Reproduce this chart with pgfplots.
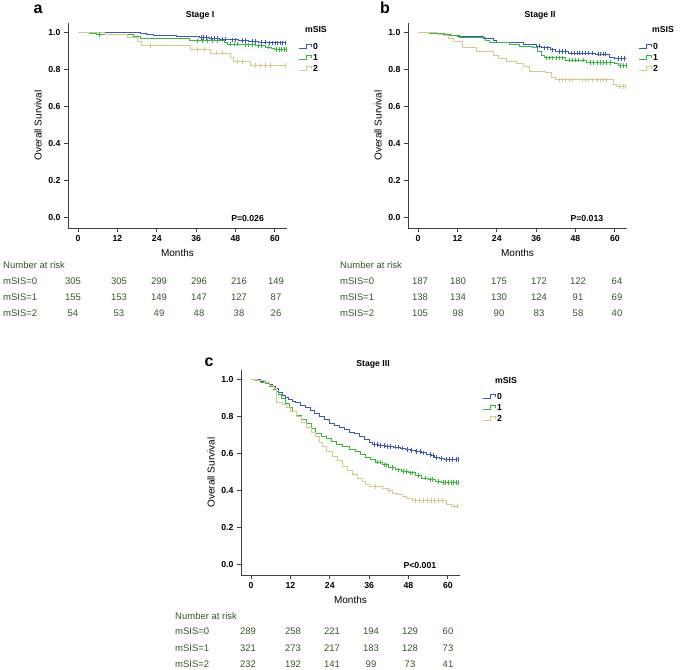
\documentclass[border=0pt]{standalone}
\usepackage{fontspec}
\setmainfont{Liberation Sans}
\usepackage{pgfplots}
\pgfplotsset{compat=1.18}
\definecolor{c0}{RGB}{62,88,186}
\definecolor{c1}{RGB}{52,186,60}
\definecolor{c2}{RGB}{212,203,135}
\definecolor{tg}{RGB}{52,88,40}
\newcommand\lf{\fontsize{8.7}{10}\selectfont\bfseries}
\newcommand\tf{\fontsize{9.5}{11}\selectfont}
\pgfplotsset{
  km/.style={
    scale only axis, width=219pt, height=205pt,
    xmin=-3.05, xmax=63.7, ymin=-0.057, ymax=1.05,
    axis x line*=bottom, axis y line*=left,
    axis line style={-, line width=0.8pt, black!75},
    xtick={0,12,24,36,48,60}, ytick={0,0.2,0.4,0.6,0.8,1.0},
    yticklabel style={/pgf/number format/.cd, fixed, fixed zerofill, precision=1},
    tick align=outside, major tick length=4pt,
    tick style={line width=0.8pt, black!75},
    ticklabel style={font=\lf},
    /pgf/number format/assume math mode=true,
    label style={font=\lf},
    xlabel=Months, ylabel=Overall Survival,
    every axis x label/.style={at={(axis description cs:0.5,-0.122)}, anchor=center},
    every axis y label/.style={at={(axis description cs:-0.137,0.5)}, rotate=90, anchor=center},
    clip=false,
    legend style={draw=none, fill=none, inner sep=0pt, row sep=2.5pt, font=\lf,
      nodes={inner sep=1pt, text height=6pt, text depth=0.5pt}, anchor=north west},
    legend cell align=left,
    legend image code/.code={\draw[#1] (0pt,-2pt) -- (7.5pt,-2pt) -- (7.5pt,2pt) -- (13pt,2pt) -- (13pt,-0.5pt);},
  },
  k0/.style={const plot, color=c0, line width=1pt, mark=none},
  k1/.style={const plot, color=c1, line width=1pt, mark=none},
  k2/.style={const plot, color=c2, line width=1pt, mark=none},
  cz/.style={only marks, mark=|, mark size=2.3pt, mark options={line width=0.6pt}, forget plot},
}
\begin{document}
\begin{tikzpicture}
\path[use as bounding box] (0pt,0pt) rectangle (685pt,669pt);
% ---------------- panel a
\begin{axis}[km, at={(68pt,441pt)}, anchor=south west, legend style={at={(axis description cs:1.05,0.905)}}]
\addplot[k0] coordinates {(0,1)(16.5,0.996)(19,0.991)(21,0.986)(23,0.981)(30,0.977)(37,0.973)(40,0.968)(43,0.963)(46,0.959)(49,0.955)(52,0.951)(55,0.947)(57.5,0.943)(63.5,0.943)};
\addlegendentry{0}
\addplot[k1] coordinates {(0,1)(3.5,0.993)(5.5,0.987)(17,0.978)(19,0.967)(34,0.957)(35,0.953)(44.5,0.944)(45.5,0.936)(50,0.932)(54,0.926)(57,0.92)(59,0.913)(60,0.908)(63.5,0.908)};
\addlegendentry{1}
\addplot[k2] coordinates {(0,1)(8,0.988)(15,0.97)(18,0.951)(19.2,0.928)(34.3,0.907)(40.4,0.887)(46.5,0.862)(47.5,0.843)(52.6,0.82)(63.5,0.82)};
\addlegendentry{2}
\addplot[k0,cz] coordinates {(37.5,0.973)(38.3,0.973)(39.2,0.973)(40.6,0.968)(41.5,0.968)(42.4,0.968)(44,0.963)(45,0.963)(47,0.959)(48,0.959)(50,0.955)(51,0.955)(53,0.951)(54,0.951)(56,0.947)(57,0.947)(58.3,0.943)(59.2,0.943)(60,0.943)(60.8,0.943)(61.6,0.943)(62.4,0.943)(63.2,0.943)};
\addplot[k1,cz] coordinates {(6.5,0.987)(36.5,0.953)(38,0.953)(39.5,0.953)(41,0.953)(42.5,0.953)(46.5,0.936)(47.5,0.936)(48.5,0.936)(51,0.932)(52,0.932)(53,0.932)(55,0.926)(56,0.926)(58,0.92)(60.5,0.908)(61.3,0.908)(62.1,0.908)(62.9,0.908)(63.5,0.908)};
\addplot[k2,cz] coordinates {(22,0.928)(36.5,0.907)(38.5,0.907)(42,0.887)(44,0.887)(48.5,0.843)(50,0.843)(54,0.82)(55.5,0.82)(57,0.82)(58.5,0.82)(63.3,0.82)};
\node[font=\lf] at (axis description cs:0.603,1.037) {Stage I};
\node[font=\lf] at (axis description cs:0.82,0.044) {P=0.026};
\node[font=\lf] at (axis description cs:1.132,0.966) {mSIS};
\end{axis}
% ---------------- panel b
\begin{axis}[km, at={(408pt,441pt)}, anchor=south west, legend style={at={(axis description cs:1.05,0.905)}}]
\addplot[k0] coordinates {(0,1)(4.6,0.995)(8,0.99)(10,0.983)(12,0.975)(20,0.966)(23,0.955)(24,0.945)(32,0.935)(36,0.925)(37.5,0.915)(40.5,0.905)(42,0.895)(46,0.887)(54,0.882)(58.5,0.866)(60,0.857)(63.5,0.857)};
\addlegendentry{0}
\addplot[k1] coordinates {(0,1)(3.6,0.994)(7.7,0.99)(9.7,0.982)(12.5,0.972)(20.7,0.958)(21.7,0.944)(28,0.935)(31,0.925)(35,0.915)(36.5,0.895)(37.5,0.875)(38.5,0.862)(45,0.85)(51.5,0.838)(60,0.829)(61,0.82)(63.5,0.82)};
\addlegendentry{1}
\addplot[k2] coordinates {(0,1)(6,0.99)(7.7,0.982)(9.2,0.966)(10.7,0.948)(13.7,0.92)(17.8,0.894)(22.9,0.876)(24.4,0.858)(27,0.843)(30,0.83)(32,0.813)(34,0.79)(39,0.78)(40.6,0.758)(42,0.743)(59.5,0.72)(60.5,0.708)(63.5,0.708)};
\addlegendentry{2}
\addplot[k0,cz] coordinates {(37,0.925)(38.5,0.915)(39.5,0.915)(41,0.905)(43,0.895)(44,0.895)(45,0.895)(46.8,0.887)(47.6,0.887)(48.4,0.887)(49.2,0.887)(50,0.887)(51,0.887)(52,0.887)(53,0.887)(54.8,0.882)(55.6,0.882)(56.4,0.882)(57.2,0.882)(61,0.857)(62,0.857)(63,0.857)};
\addplot[k1,cz] coordinates {(39,0.862)(40,0.862)(41,0.862)(42,0.862)(43,0.862)(44,0.862)(46,0.85)(47,0.85)(48,0.85)(49,0.85)(50.5,0.85)(52.5,0.838)(53.5,0.838)(54.5,0.838)(55.5,0.838)(56.5,0.838)(57.5,0.838)(58.5,0.838)(61.8,0.82)(62.6,0.82)(63.4,0.82)};
\addplot[k2,cz] coordinates {(43,0.743)(44,0.743)(45,0.743)(46,0.743)(47,0.743)(50,0.743)(51,0.743)(52,0.743)(53,0.743)(54.5,0.743)(55.5,0.743)(56.5,0.743)(57.5,0.743)(61.5,0.708)(62.5,0.708)(63.3,0.708)};
\node[font=\lf] at (axis description cs:0.603,1.037) {Stage II};
\node[font=\lf] at (axis description cs:0.817,0.044) {P=0.013};
\node[font=\lf] at (axis description cs:1.164,0.966) {mSIS};
\end{axis}
% ---------------- panel c
\begin{axis}[km, at={(241pt,94pt)}, anchor=south west, legend style={at={(axis description cs:1.10,0.893)}}]
\addplot[k0] coordinates {(0,1)(1.5,0.997)(3,0.99)(4.5,0.982)(5.5,0.972)(6.5,0.962)(7.5,0.948)(8.5,0.93)(9.5,0.914)(10.5,0.9)(11.5,0.89)(12.5,0.882)(13.5,0.872)(15,0.86)(16.5,0.848)(18,0.832)(19.5,0.815)(21,0.8)(22.5,0.78)(24,0.762)(25.5,0.75)(27,0.738)(28.5,0.726)(30,0.715)(31.5,0.705)(33,0.69)(34.5,0.677)(36,0.66)(37,0.648)(39,0.642)(41,0.638)(43.5,0.634)(45.5,0.628)(47,0.62)(48.5,0.614)(50,0.609)(52,0.602)(53.5,0.595)(55,0.588)(56,0.578)(57.5,0.572)(59,0.566)(63.5,0.566)};
\addlegendentry{0}
\addplot[k1] coordinates {(0,1)(1.5,0.995)(3,0.985)(4.5,0.975)(5.7,0.96)(7,0.945)(7.7,0.932)(8.5,0.915)(9.2,0.896)(10.5,0.87)(11.7,0.845)(12.7,0.825)(13.8,0.806)(15.3,0.785)(16.8,0.762)(18.3,0.735)(19.8,0.708)(21.5,0.69)(23,0.678)(24.5,0.665)(26,0.65)(27.9,0.636)(30,0.622)(31.9,0.609)(33.5,0.595)(35,0.58)(36.5,0.565)(38,0.553)(40,0.538)(42,0.525)(44.1,0.511)(46,0.503)(48.1,0.494)(50,0.48)(52.1,0.466)(54,0.458)(56.1,0.448)(58,0.444)(63.5,0.444)};
\addlegendentry{1}
\addplot[k2] coordinates {(0,1)(2,0.992)(4,0.982)(5.7,0.968)(7,0.952)(7.8,0.872)(9.5,0.862)(10.7,0.85)(12,0.825)(13.8,0.797)(15.3,0.765)(16.8,0.74)(18.3,0.715)(19.8,0.69)(21,0.66)(21.8,0.636)(23,0.612)(24.8,0.585)(26.5,0.56)(27.9,0.53)(29.5,0.505)(30.9,0.484)(32.5,0.463)(33.9,0.448)(35,0.432)(36,0.421)(40,0.412)(41.5,0.4)(43.1,0.385)(44.5,0.378)(46.1,0.367)(47.5,0.358)(49.1,0.345)(59.5,0.325)(61,0.315)(63.5,0.315)};
\addlegendentry{2}
\addplot[k0,cz] coordinates {(37.5,0.648)(38.5,0.648)(39.5,0.642)(40.5,0.642)(41.5,0.638)(42.5,0.638)(44,0.634)(45,0.634)(46,0.628)(47.5,0.62)(49,0.614)(50.5,0.609)(51.5,0.609)(52.5,0.602)(54.5,0.595)(55.5,0.588)(56.5,0.578)(58,0.572)(59.5,0.566)(60.5,0.566)(61.5,0.566)(62.5,0.566)(63.3,0.566)};
\addplot[k1,cz] coordinates {(38.5,0.553)(39.3,0.553)(40.5,0.538)(41.3,0.538)(43,0.525)(45,0.511)(46.5,0.503)(47.3,0.503)(48.5,0.494)(49.3,0.494)(51,0.48)(53,0.466)(54.5,0.458)(55.3,0.458)(57,0.448)(58.5,0.444)(59.3,0.444)(60.1,0.444)(60.9,0.444)(61.7,0.444)(62.5,0.444)(63.3,0.444)};
\addplot[k2,cz] coordinates {(38,0.421)(42,0.4)(50,0.345)(51.2,0.345)(52.4,0.345)(53.6,0.345)(54.8,0.345)(56,0.345)(57.2,0.345)(58.4,0.345)(62,0.315)(63,0.315)};
\node[font=\lf] at (axis description cs:0.603,1.025) {Stage III};
\node[font=\lf] at (axis description cs:0.817,0.044) {P<0.001};
\node[font=\lf] at (axis description cs:1.21,0.951) {mSIS};
\end{axis}
% ---------------- panel labels
\node[anchor=base, font=\fontsize{16}{18}\selectfont\bfseries] at (38pt,655.7pt) {a};
\node[anchor=base, font=\fontsize{16}{18}\selectfont\bfseries] at (385pt,655.7pt) {b};
\node[anchor=base, font=\fontsize{16}{18}\selectfont\bfseries] at (209pt,302pt) {c};
% ---------------- number at risk tables
\begin{scope}[font=\tf, text=tg]
\node[anchor=base west, inner sep=0pt] at (3pt,400pt) {Number at risk};
\node[anchor=base west, inner sep=0pt] at (3pt,384pt) {mSIS=0};
\node[anchor=base west, inner sep=0pt] at (3pt,368.5pt) {mSIS=1};
\node[anchor=base west, inner sep=0pt] at (3pt,352.5pt) {mSIS=2};
\foreach \x/\u/\v/\w in {73/305/155/54, 119/305/153/53, 159/299/149/49, 199/296/147/48, 239/216/127/38, 276/149/87/26}{
  \node[anchor=base, inner sep=0pt] at (\x pt,384pt) {\u};
  \node[anchor=base, inner sep=0pt] at (\x pt,368.5pt) {\v};
  \node[anchor=base, inner sep=0pt] at (\x pt,352.5pt) {\w};
}
\node[anchor=base west, inner sep=0pt] at (340pt,400pt) {Number at risk};
\node[anchor=base west, inner sep=0pt] at (340pt,384pt) {mSIS=0};
\node[anchor=base west, inner sep=0pt] at (340pt,368.5pt) {mSIS=1};
\node[anchor=base west, inner sep=0pt] at (340pt,352.5pt) {mSIS=2};
\foreach \x/\u/\v/\w in {420/187/138/105, 458/180/134/98, 499/175/130/90, 539/172/124/83, 578/122/91/58, 617/64/69/40}{
  \node[anchor=base, inner sep=0pt] at (\x pt,384pt) {\u};
  \node[anchor=base, inner sep=0pt] at (\x pt,368.5pt) {\v};
  \node[anchor=base, inner sep=0pt] at (\x pt,352.5pt) {\w};
}
\node[anchor=base west, inner sep=0pt] at (175pt,49.8pt) {Number at risk};
\node[anchor=base west, inner sep=0pt] at (175pt,34.3pt) {mSIS=0};
\node[anchor=base west, inner sep=0pt] at (175pt,17.8pt) {mSIS=1};
\node[anchor=base west, inner sep=0pt] at (175pt,1.8pt) {mSIS=2};
\foreach \x/\u/\v/\w in {248/289/321/232, 293/258/273/192, 332/221/217/141, 371/194/183/99, 410/129/128/73, 448/60/73/41}{
  \node[anchor=base, inner sep=0pt] at (\x pt,34.3pt) {\u};
  \node[anchor=base, inner sep=0pt] at (\x pt,17.8pt) {\v};
  \node[anchor=base, inner sep=0pt] at (\x pt,1.8pt) {\w};
}
\end{scope}
\end{tikzpicture}
\end{document}
